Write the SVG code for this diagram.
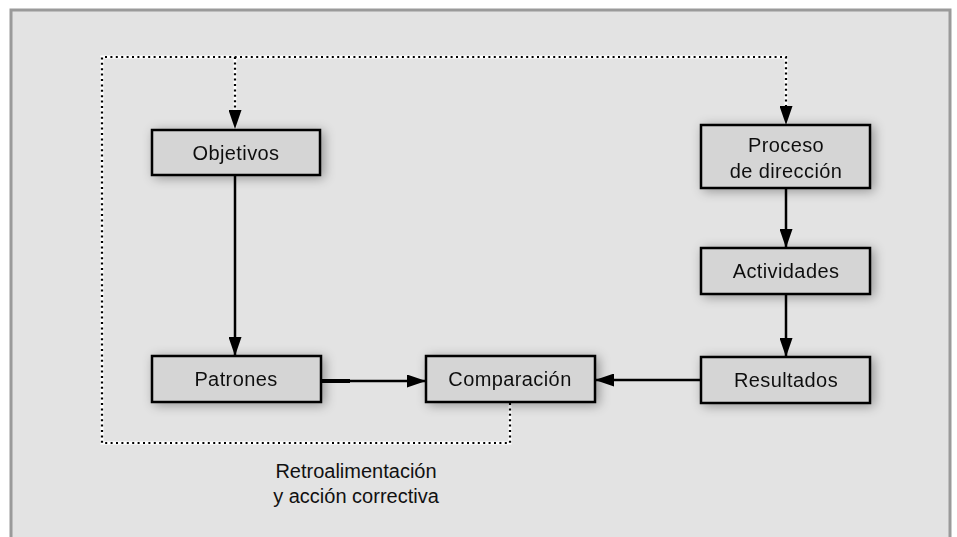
<svg xmlns="http://www.w3.org/2000/svg" width="957" height="537" viewBox="0 0 957 537">
<defs>
<style>
.box{fill:#d5d5d5;stroke:#000;stroke-width:2.5}
.lbl{font-family:"Liberation Sans",Arial,sans-serif;font-size:20px;letter-spacing:0.4px;fill:#111;text-anchor:middle}
.cap{font-family:"Liberation Sans",Arial,sans-serif;font-size:20px;fill:#111;text-anchor:middle}
.solid{stroke:#000;stroke-width:2.5;fill:none}
.dotbg{stroke:#fff;stroke-width:3;fill:none}
.dot{stroke:#000;stroke-width:2.2;fill:none;stroke-dasharray:2 3.4}
</style>
<filter id="sh" x="-20%" y="-50%" width="150%" height="220%">
<feGaussianBlur in="SourceAlpha" stdDeviation="6"/>
<feOffset dx="3" dy="2" result="b"/>
<feComponentTransfer><feFuncA type="linear" slope="0.35"/></feComponentTransfer>
<feMerge><feMergeNode/><feMergeNode in="SourceGraphic"/></feMerge>
</filter>
<marker id="ahv" viewBox="0 0 19 13" refX="19" refY="6.5" markerWidth="19" markerHeight="13" markerUnits="userSpaceOnUse" orient="auto">
<path d="M0,0 L19,6.5 L0,13 Z" fill="#000"/>
</marker>
</defs>
<rect x="0" y="0" width="957" height="537" fill="#fff"/>
<rect x="11" y="10" width="939" height="540" fill="#e3e3e3" stroke="#9a9a9a" stroke-width="3"/>

<g id="connectors">
<path class="dotbg" d="M510,403 V443 H102 V57 H786 V125 M235,57 V129"/>
<path class="dot" d="M510,403 V443 H102 V57 H786 V108"/>
<path class="dot" d="M235,57 V110"/>
<path d="M235,108 V129" stroke="#000" stroke-width="0.1" marker-end="url(#ahv)"/>
<path d="M786,104 V125" stroke="#000" stroke-width="0.1" marker-end="url(#ahv)"/>
<path class="solid" d="M235,175 V356" marker-end="url(#ahv)"/>
<path class="solid" d="M786,189 V248" marker-end="url(#ahv)"/>
<path class="solid" d="M786,295 V357" marker-end="url(#ahv)"/>
<path class="solid" d="M322,381 H426" marker-end="url(#ahv)"/>
<path d="M322,381 H350" stroke="#000" stroke-width="4"/>
<path class="solid" d="M700,380 H595" marker-end="url(#ahv)"/>
</g>

<g id="objetivos" filter="url(#sh)">
<rect class="box" x="152" y="130" width="168" height="45"/>
<text class="lbl" x="236" y="160">Objetivos</text>
</g>
<g id="proceso" filter="url(#sh)">
<rect class="box" x="701" y="125" width="169" height="63"/>
<text class="lbl" x="786" y="152">Proceso</text>
<text class="lbl" x="786" y="178">de dirección</text>
</g>
<g id="actividades" filter="url(#sh)">
<rect class="box" x="701" y="248" width="169" height="46"/>
<text class="lbl" x="786" y="278">Actividades</text>
</g>
<g id="resultados" filter="url(#sh)">
<rect class="box" x="701" y="357" width="169" height="46"/>
<text class="lbl" x="786" y="387">Resultados</text>
</g>
<g id="patrones" filter="url(#sh)">
<rect class="box" x="152" y="356" width="169" height="46"/>
<text class="lbl" x="236" y="386">Patrones</text>
</g>
<g id="comparacion" filter="url(#sh)">
<rect class="box" x="426" y="356" width="169" height="46"/>
<text class="lbl" x="510" y="386">Comparación</text>
</g>
<g id="caption">
<text class="cap" x="356" y="478">Retroalimentación</text>
<text class="cap" x="356" y="503">y acción correctiva</text>
</g>
</svg>
